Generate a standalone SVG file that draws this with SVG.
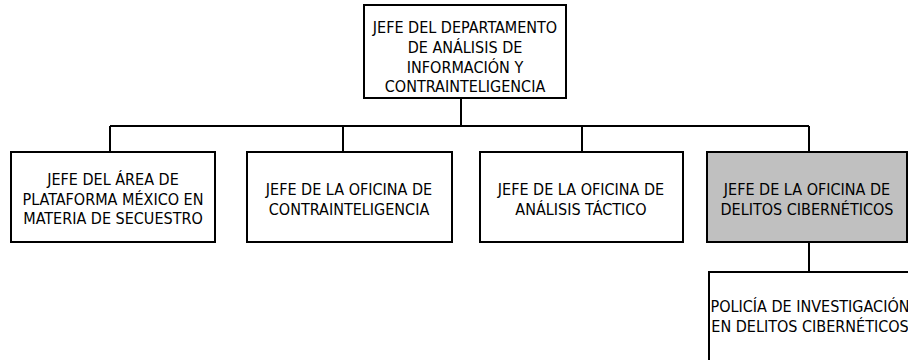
<svg xmlns="http://www.w3.org/2000/svg" width="908" height="360" viewBox="0 0 908 360">
<style>
.box{fill:#fff;stroke:#000;stroke-width:2}
.gray{fill:#c0c0c0}
.t{font-family:"DejaVu Sans Condensed","DejaVu Sans",sans-serif;font-size:16px;fill:#000;text-anchor:middle}
.c{fill:none;stroke:#000;stroke-width:2}
</style>
<rect width="908" height="360" fill="#fff"/>
<g id="connectors">
<path class="c" d="M461 98V126M110 126H809M110 126V152M343 126V152M582 126V152M809 126V152M809 242V272"/>
</g>
<g id="n0"><rect class="box" x="364" y="5" width="202" height="93"/>
<text class="t" x="465" y="33">JEFE DEL DEPARTAMENTO</text>
<text class="t" x="465" y="53">DE ANÁLISIS DE</text>
<text class="t" x="465" y="73">INFORMACIÓN Y</text>
<text class="t" x="465" y="92">CONTRAINTELIGENCIA</text></g>
<g id="n1"><rect class="box" x="11" y="152" width="204" height="90"/>
<text class="t" x="113" y="185">JEFE DEL ÁREA DE</text>
<text class="t" x="113" y="205">PLATAFORMA MÉXICO EN</text>
<text class="t" x="113" y="224">MATERIA DE SECUESTRO</text></g>
<g id="n2"><rect class="box" x="247" y="152" width="205" height="90"/>
<text class="t" x="349" y="195">JEFE DE LA OFICINA DE</text>
<text class="t" x="349" y="215">CONTRAINTELIGENCIA</text></g>
<g id="n3"><rect class="box" x="480" y="152" width="203" height="90"/>
<text class="t" x="581" y="195">JEFE DE LA OFICINA DE</text>
<text class="t" x="581" y="215">ANÁLISIS TÁCTICO</text></g>
<g id="n4"><rect class="box gray" x="707" y="152" width="200" height="90"/>
<text class="t" x="807" y="195">JEFE DE LA OFICINA DE</text>
<text class="t" x="807" y="215">DELITOS CIBERNÉTICOS</text></g>
<g id="n5"><rect class="box" x="709" y="272" width="204" height="100"/>
<text class="t" x="810" y="312">POLICÍA DE INVESTIGACIÓN</text>
<text class="t" x="810" y="332">EN DELITOS CIBERNÉTICOS</text></g>
</svg>
